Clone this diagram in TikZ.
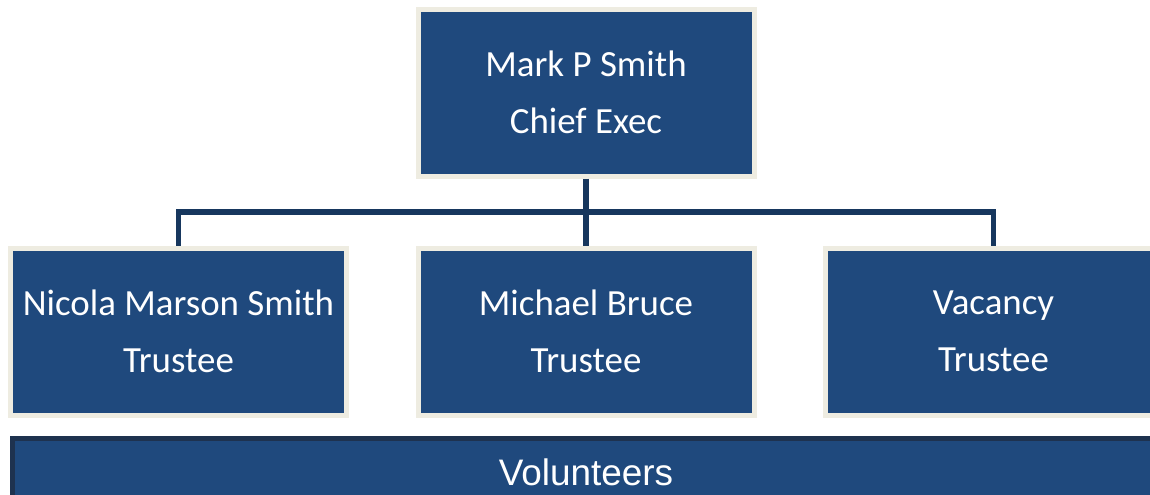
\documentclass[tikz,border=0pt]{standalone}
\usepackage{fontspec}
\setmainfont{Carlito}
\newfontfamily\volfont{Liberation Sans}
\usetikzlibrary{positioning,calc}
\definecolor{boxblue}{HTML}{1F497D}
\definecolor{boxrim}{HTML}{EEECE1}
\definecolor{linkblue}{HTML}{17375E}
\definecolor{volrim}{HTML}{1E324F}
\tikzstyle{person} = [rectangle, minimum width=6.72cm, minimum height=3.34cm, align=center, text=white, fill=boxblue, draw=boxrim, line width=0.1cm, font=\fontsize{21}{32.4}\selectfont]
\tikzstyle{volbar} = [rectangle, minimum width=22.94cm, minimum height=1.38cm, text=white, fill=boxblue, draw=volrim, line width=0.1cm, font=\volfont\fontsize{21}{25}\selectfont]
\tikzstyle{link} = [linkblue, line width=0.11cm]

\begin{document}
\begin{tikzpicture}[node distance=1.33cm]
\clip (0,0) rectangle (23,-9.9);
\useasboundingbox (0,0) rectangle (23,-9.9);
\node (chief) [person] at (11.72,-1.85) {Mark P Smith\\Chief Exec};
\node (trustee2) [person, below=1.34cm of chief] {Michael Bruce\\Trustee};
\node (trustee1) [person, left=of trustee2] {Nicola Marson Smith\\Trustee};
\node (trustee3) [person, right=of trustee2] {Vacancy\\Trustee};
\node (volunteers) [volbar, below=0.36cm of trustee2] {Volunteers};

\coordinate (bus) at ($(chief.south)!0.5!(trustee2.north)$);
\draw [link] (chief.south) -- (trustee2.north);
\draw [link] (trustee1.north) |- (bus) -| (trustee3.north);
\end{tikzpicture}
\end{document}
